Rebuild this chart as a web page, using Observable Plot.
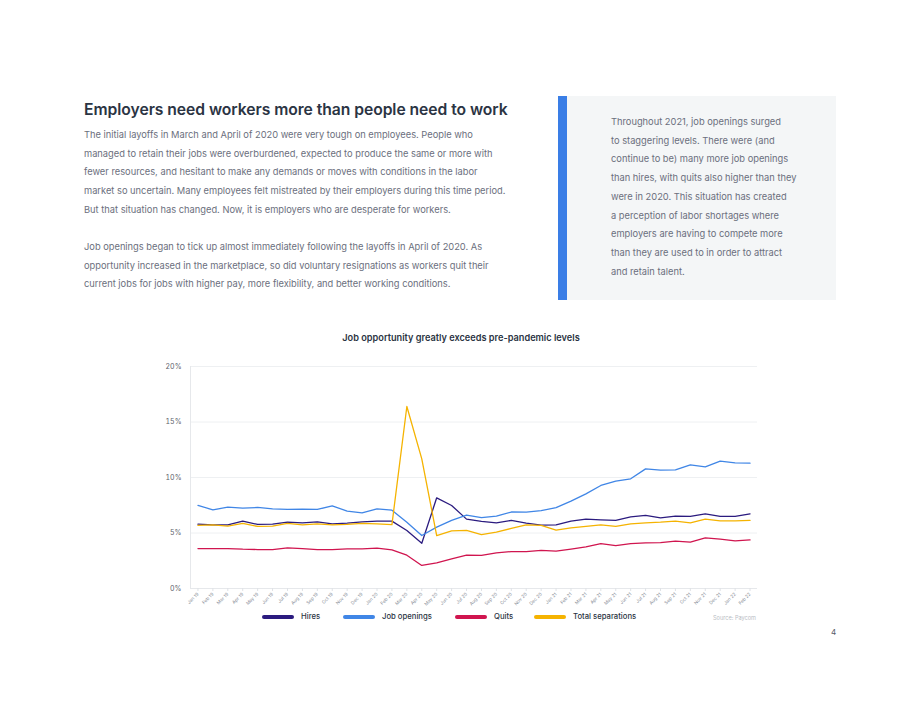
<!DOCTYPE html>
<html>
<head>
<meta charset="utf-8">
<script src="https://cdn.jsdelivr.net/npm/d3@7"></script>
<script src="https://cdn.jsdelivr.net/npm/@observablehq/plot@0.6"></script>
<style>
  html, body { margin: 0; padding: 0; background: #fff; }
  #page { position: relative; width: 920px; height: 711px; font-family: Inter, "Noto Sans", sans-serif; }
  .title { position: absolute; left: 84px; top: 100px; font-size: 15.7px; font-weight: 600; color: #2b3443; letter-spacing: -0.05px; white-space: nowrap; }
  .body { position: absolute; left: 84px; font-size: 9.3px; color: #6b6f7d; line-height: 18.7px; white-space: nowrap; }
  .aside { position: absolute; left: 558px; top: 96px; width: 278px; height: 204px; background: #f4f6f7; }
  .aside .bar { position: absolute; left: 0; top: 0; width: 9px; height: 100%; background: #3a7ee6; }
  .aside .txt { position: absolute; left: 53px; top: 17px; font-size: 9.3px; color: #6b6f7d; line-height: 18.7px; white-space: nowrap; }
  .ctitle { position: absolute; left: 0; width: 922px; top: 332px; text-align: center; font-size: 9.2px; font-weight: 600; color: #2b3443; }
  #chart { position: absolute; left: 160px; top: 355px; }
  .legend { position: absolute; top: 612px; left: 0; font-size: 7.7px; color: #2b3443; font-weight: 500; }
  .legend .item { position: absolute; display: flex; align-items: center; white-space: nowrap; }
  .legend .sw { width: 32px; height: 4px; border-radius: 2px; margin-right: 7px; }
  .source { position: absolute; left: 713px; top: 615px; font-size: 5.6px; color: #b8bcc4; }
  .pnum { position: absolute; left: 831px; top: 627px; font-size: 8px; color: #555b66; }
</style>
</head>
<body>
<div id="page">
  <div class="title">Employers need workers more than people need to work</div>
  <div class="body" style="top:126px">
    The initial layoffs in March and April of 2020 were very tough on employees. People who<br>
    managed to retain their jobs were overburdened, expected to produce the same or more with<br>
    fewer resources, and hesitant to make any demands or moves with conditions in the labor<br>
    market so uncertain. Many employees felt mistreated by their employers during this time period.<br>
    But that situation has changed. Now, it is employers who are desperate for workers.
  </div>
  <div class="body" style="top:238px">
    Job openings began to tick up almost immediately following the layoffs in April of 2020. As<br>
    opportunity increased in the marketplace, so did voluntary resignations as workers quit their<br>
    current jobs for jobs with higher pay, more flexibility, and better working conditions.
  </div>
  <div class="aside">
    <div class="bar"></div>
    <div class="txt">
      Throughout 2021, job openings surged<br>
      to staggering levels. There were (and<br>
      continue to be) many more job openings<br>
      than hires, with quits also higher than they<br>
      were in 2020. This situation has created<br>
      a perception of labor shortages where<br>
      employers are having to compete more<br>
      than they are used to in order to attract<br>
      and retain talent.
    </div>
  </div>
  <div class="ctitle">Job opportunity greatly exceeds pre-pandemic levels</div>
  <div id="chart"></div>
  <div class="legend" id="legend"></div>
  <div class="source">Source: Paycom</div>
  <div class="pnum">4</div>
</div>
<script>
// Monthly labels, Jan 2019 through Feb 2022
const months = [
  "Jan 19","Feb 19","Mar 19","Apr 19","May 19","Jun 19","Jul 19","Aug 19","Sep 19","Oct 19","Nov 19","Dec 19",
  "Jan 20","Feb 20","Mar 20","Apr 20","May 20","Jun 20","Jul 20","Aug 20","Sep 20","Oct 20","Nov 20","Dec 20",
  "Jan 21","Feb 21","Mar 21","Apr 21","May 21","Jun 21","Jul 21","Aug 21","Sep 21","Oct 21","Nov 21","Dec 21",
  "Jan 22","Feb 22"
];

// Rates, percent
const hires = [
  5.80,5.74,5.74,6.07,5.77,5.80,5.98,5.92,6.00,5.83,5.89,6.00,
  6.07,6.07,5.23,4.08,8.17,7.48,6.25,6.04,5.92,6.13,5.89,5.71,
  5.74,6.07,6.25,6.19,6.13,6.46,6.58,6.37,6.52,6.49,6.73,6.49,
  6.49,6.73
];
const jobOpenings = [
  7.48,7.09,7.33,7.24,7.30,7.18,7.12,7.15,7.12,7.45,6.97,6.82,
  7.18,7.06,5.97,4.77,5.53,6.13,6.62,6.38,6.52,6.89,6.88,7.01,
  7.28,7.87,8.53,9.28,9.67,9.88,10.78,10.66,10.69,11.14,10.96,11.47,
  11.32,11.29
];
const quits = [
  3.60,3.60,3.60,3.54,3.51,3.51,3.66,3.60,3.51,3.51,3.57,3.57,
  3.63,3.48,3.00,2.08,2.31,2.67,3.00,2.98,3.21,3.33,3.33,3.43,
  3.36,3.54,3.75,4.05,3.87,4.05,4.11,4.14,4.26,4.17,4.56,4.44,
  4.29,4.38
];
const totalSeparations = [
  5.68,5.74,5.62,5.86,5.59,5.62,5.86,5.74,5.83,5.74,5.77,5.86,
  5.83,5.76,16.40,11.68,4.77,5.20,5.23,4.86,5.08,5.41,5.74,5.68,
  5.26,5.47,5.59,5.74,5.59,5.83,5.92,5.98,6.07,5.92,6.25,6.10,
  6.10,6.13
];

const seriesNames = ["Hires", "Job openings", "Quits", "Total separations"];
const seriesValues = [hires, jobOpenings, quits, totalSeparations];
const seriesColors = ["#2b1b7f", "#4086e6", "#d0154f", "#f5b301"];

const yTicks = [0, 5, 10, 15, 20];

// Long-format table for Plot
const rows = seriesNames.flatMap((name, s) =>
  months.map((m, i) => ({ series: name, month: m, value: seriesValues[s][i] }))
);

const chart = Plot.plot({
  width: 600,
  height: 255,
  marginTop: 11,
  marginBottom: 22,
  marginLeft: 30,
  marginRight: 3,
  style: { fontFamily: "Inter, 'Noto Sans', sans-serif", background: "transparent" },
  x: { type: "point", domain: months, padding: 0.5, label: null },
  y: { domain: [0, 20], ticks: yTicks, label: null },
  color: { domain: seriesNames, range: seriesColors },
  marks: [
    Plot.gridY(yTicks, { stroke: "#eef0f2", strokeOpacity: 1 }),
    Plot.frame({ anchor: "left", stroke: "#e6e8eb" }),
    Plot.ruleY([0], { stroke: "#e6e8eb" }),
    Plot.axisY(yTicks, {
      tickSize: 0, tickPadding: 9, fontSize: 7, fill: "#5c616b",
      tickFormat: d => d + "%"
    }),
    Plot.axisX({
      tickSize: 3, stroke: "#dfe2e6", tickRotate: -45, tickPadding: 2,
      fontSize: 4.6, fill: "#8a8f99"
    }),
    Plot.line(rows, {
      x: "month", y: "value", z: "series", stroke: "series",
      strokeWidth: 1.3, curve: "linear"
    })
  ]
});
document.getElementById("chart").appendChild(chart);

// Legend below the chart
const legendX = [262, 343, 455, 534];
const legend = document.getElementById("legend");
seriesNames.forEach((name, i) => {
  const item = document.createElement("div");
  item.className = "item";
  item.style.left = legendX[i] + "px";
  const sw = document.createElement("div");
  sw.className = "sw";
  sw.style.background = seriesColors[i];
  const label = document.createElement("span");
  label.textContent = name;
  item.appendChild(sw);
  item.appendChild(label);
  legend.appendChild(item);
});
</script>
</body>
</html>
